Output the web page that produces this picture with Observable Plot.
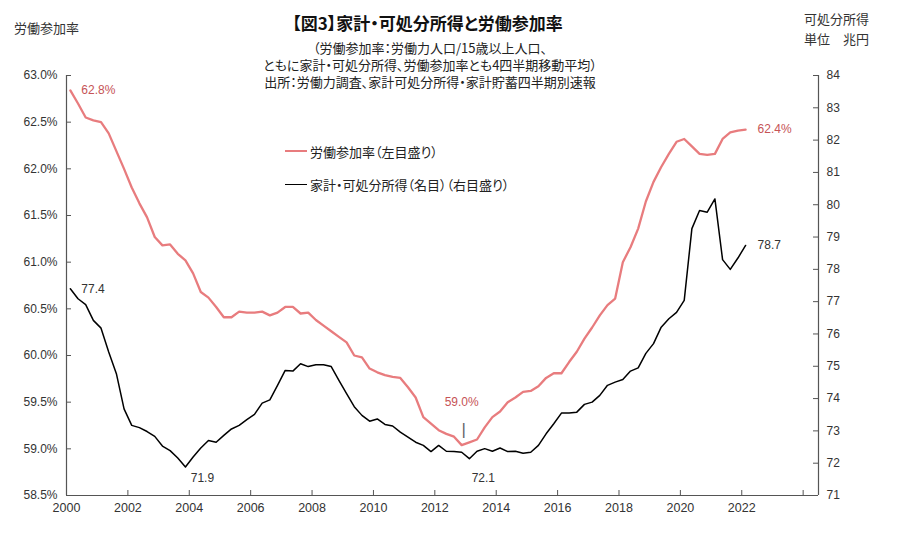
<!DOCTYPE html>
<html><head><meta charset="utf-8">
<script src="https://cdn.jsdelivr.net/npm/d3@7"></script>
<script src="https://cdn.jsdelivr.net/npm/@observablehq/plot@0.6"></script>
<style>
body{margin:0;background:#fff;}
#wrap{position:relative;width:900px;height:551px;overflow:hidden;}
#wrap svg{display:block;}
.t{position:absolute;white-space:nowrap;font-family:"Noto Sans CJK JP","Noto Sans",sans-serif;font-feature-settings:"palt";color:#222;line-height:1;}
.sw{position:absolute;}
</style></head><body><div id="wrap"></div>
<script>
// ---- data (quarterly, 4-quarter moving averages, 2000Q1 .. 2022Q1) ----
const startYear = 2000;
const participationRate = [
  62.84, 62.70, 62.55, 62.52, 62.50, 62.38, 62.19, 62.00,
  61.80, 61.63, 61.48, 61.27, 61.18, 61.19, 61.09, 61.02,
  60.88, 60.68, 60.62, 60.52, 60.41, 60.41, 60.47, 60.46,
  60.46, 60.47, 60.43, 60.46, 60.52, 60.52, 60.45, 60.46,
  60.38, 60.32, 60.26, 60.20, 60.14, 60.00, 59.98, 59.86,
  59.82, 59.79, 59.77, 59.76, 59.66, 59.55, 59.34, 59.27,
  59.20, 59.16, 59.13, 59.04, 59.07, 59.10, 59.23, 59.34,
  59.40, 59.50, 59.55, 59.61, 59.62, 59.67, 59.76, 59.81,
  59.81, 59.93, 60.04, 60.18, 60.30, 60.43, 60.54, 60.61,
  61.00, 61.16, 61.36, 61.65, 61.86, 62.02, 62.16, 62.29,
  62.32, 62.24, 62.16, 62.15, 62.16, 62.32, 62.39, 62.41,
  62.42
];
const disposableIncome = [
  77.40, 77.09, 76.91, 76.42, 76.18, 75.44, 74.77, 73.68,
  73.17, 73.10, 72.98, 72.83, 72.53, 72.39, 72.16, 71.88,
  72.19, 72.47, 72.70, 72.65, 72.86, 73.06, 73.17, 73.35,
  73.51, 73.86, 73.96, 74.41, 74.87, 74.85, 75.08, 74.99,
  75.05, 75.05, 74.99, 74.56, 74.15, 73.75, 73.48, 73.30,
  73.37, 73.20, 73.15, 72.96, 72.81, 72.65, 72.55, 72.36,
  72.55, 72.37, 72.36, 72.34, 72.14, 72.37, 72.45, 72.37,
  72.47, 72.36, 72.37, 72.31, 72.34, 72.55, 72.91, 73.22,
  73.55, 73.55, 73.58, 73.82, 73.89, 74.10, 74.41, 74.51,
  74.59, 74.85, 74.95, 75.40, 75.70, 76.21, 76.47, 76.67,
  77.04, 79.26, 79.82, 79.77, 80.18, 78.30, 78.00, 78.35,
  78.74
];
const xTicks = [2000, 2002, 2004, 2006, 2008, 2010, 2012, 2014, 2016, 2018, 2020, 2022, 2024];
const leftTicks = [58.5, 59.0, 59.5, 60.0, 60.5, 61.0, 61.5, 62.0, 62.5, 63.0];
const rightTicks = [71, 72, 73, 74, 75, 76, 77, 78, 79, 80, 81, 82, 83, 84];
const xDomain = [2000, 2024.5];

// ---- texts ----
const titleText = "【図3】家計・可処分所得と労働参加率";
const subtitleLines = [
  "（労働参加率：労働力人口/15歳以上人口、",
  "ともに家計・可処分所得、労働参加率とも4四半期移動平均）",
  "出所：労働力調査、家計可処分所得・家計貯蓄四半期別速報"
];
const leftAxisTitle = "労働参加率";
const rightAxisTitle = ["可処分所得", "単位　兆円"];
const legendLabels = ["労働参加率（左目盛り）", "家計・可処分所得（名目）（右目盛り）"];

// ---- helpers ----
const leftMin = leftTicks[0], leftMax = leftTicks[leftTicks.length - 1];
const rightMin = rightTicks[0], rightMax = rightTicks[rightTicks.length - 1];
const toLeft = v => leftMin + (v - rightMin) * (leftMax - leftMin) / (rightMax - rightMin);
const fromLeft = v => rightMin + (v - leftMin) * (rightMax - rightMin) / (leftMax - leftMin);
const xOf = i => startYear + (i + 0.5) / 4;

const rateData = participationRate.map((v, i) => ({x: xOf(i), y: v, v}));
const incomeData = disposableIncome.map((v, i) => ({x: xOf(i), y: toLeft(v), v}));

const rMinI = d3.minIndex(participationRate);
const iMinI = d3.minIndex(disposableIncome);
const iMin2I = 40 + d3.minIndex(disposableIncome.slice(40));
const nLast = participationRate.length - 1;

const RED = "#E87C7E", REDTXT = "#C65356", AXC = "#555";
const pct = d => d.v.toFixed(1) + "%";
const num = d => d.v.toFixed(1);

const W = 900, H = 551, mT = 75, mB = 56, mL = 66, mR = 82;
const frameW = W - mL - mR, frameH = H - mT - mB, tick = 5;

const chart = Plot.plot({
  width: W, height: H,
  marginTop: mT, marginBottom: mB, marginLeft: mL, marginRight: mR,
  x: {domain: xDomain, axis: null},
  y: {domain: [leftMin, leftMax], axis: null},
  style: {fontFamily: '"Liberation Sans", Arial, sans-serif', fontSize: "12px", color: "#333", background: "transparent", overflow: "visible"},
  marks: [
    Plot.axisX(xTicks, {anchor: "bottom", tickSize: 0, tickPadding: 8, label: null, fontSize: 12.5, tickFormat: d => d === 2024 ? "" : String(d)}),
    Plot.axisY(leftTicks, {anchor: "left", tickSize: 0, tickPadding: 9, label: null, tickFormat: d => d.toFixed(1) + "%"}),
    Plot.axisY(rightTicks.map(toLeft), {anchor: "right", tickSize: 0, tickPadding: 8, label: null, tickFormat: d => String(Math.round(fromLeft(d)))}),
    Plot.tickX(xTicks, {x: d => d, insetTop: frameH - tick, stroke: AXC}),
    Plot.tickY(leftTicks, {y: d => d, insetRight: frameW - tick, stroke: AXC}),
    Plot.tickY(rightTicks.map(toLeft), {y: d => d, insetLeft: frameW - tick, stroke: AXC}),
    Plot.ruleX([xDomain[0]], {stroke: AXC, strokeWidth: 1.2}),
    Plot.ruleX([xDomain[1]], {stroke: AXC, strokeWidth: 1.2}),
    Plot.ruleY([leftMin], {stroke: AXC, strokeWidth: 1.2}),
    Plot.line(rateData, {x: "x", y: "y", stroke: RED, strokeWidth: 2.3}),
    Plot.line(incomeData, {x: "x", y: "y", stroke: "#000", strokeWidth: 1.5}),
    // annotations
    Plot.text([rateData[0]], {x: "x", y: "y", text: pct, dx: 11, textAnchor: "start", fill: REDTXT}),
    Plot.text([rateData[nLast]], {x: "x", y: "y", text: pct, dx: 12, textAnchor: "start", fill: REDTXT}),
    Plot.text([rateData[rMinI]], {x: "x", y: "y", text: pct, dx: 0, dy: -43, fill: REDTXT}),
    Plot.text([rateData[rMinI]], {x: "x", y: "y", text: () => "|", dx: 2, dy: -16, fill: "#666", fontSize: 17}),
    Plot.text([incomeData[0]], {x: "x", y: "y", text: num, dx: 11, textAnchor: "start", fill: "#333"}),
    Plot.text([incomeData[nLast]], {x: "x", y: "y", text: num, dx: 12, textAnchor: "start", fill: "#333"}),
    Plot.text([incomeData[iMinI]], {x: "x", y: "y", text: num, dx: 17, dy: 11, fill: "#333"}),
    Plot.text([incomeData[iMin2I]], {x: "x", y: "y", text: num, dx: 14, dy: 19, fill: "#333"})
  ]
});

const wrap = document.getElementById("wrap");
wrap.appendChild(chart);

function addText(txt, css) {
  const d = document.createElement("div");
  d.className = "t";
  d.textContent = txt;
  Object.assign(d.style, css);
  wrap.appendChild(d);
  return d;
}
function addSwatch(css) {
  const d = document.createElement("div");
  d.className = "sw";
  Object.assign(d.style, css);
  wrap.appendChild(d);
}
addText(titleText, {left: "0px", width: "855px", textAlign: "center", top: "13.5px", fontSize: "17px", fontWeight: "bold", color: "#111"});
addText(subtitleLines.join("\n"), {left: "0px", width: "860px", textAlign: "center", top: "39px", fontSize: "13px", lineHeight: "17px", whiteSpace: "pre"});
addText(leftAxisTitle, {left: "14px", top: "20.5px", fontSize: "13px", color: "#333"});
addText(rightAxisTitle.join("\n"), {left: "804px", top: "8.5px", fontSize: "13px", lineHeight: "20px", whiteSpace: "pre", textAlign: "right", color: "#333"});
addSwatch({left: "285px", top: "150px", width: "22px", height: "2.3px", background: RED});
addText(legendLabels[0], {left: "310px", top: "144.5px", fontSize: "13px", color: "#222"});
addSwatch({left: "285px", top: "183.5px", width: "22px", height: "1.5px", background: "#000"});
addText(legendLabels[1], {left: "310px", top: "177.5px", fontSize: "13px", color: "#222"});
</script></body></html>
